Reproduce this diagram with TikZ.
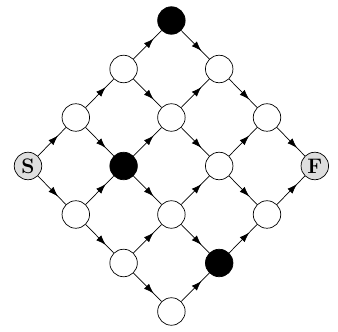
\documentclass[tikz,border=0pt]{standalone}
\usepackage{tikz}
\usetikzlibrary{arrows.meta,decorations.markings}
\begin{document}
\begin{tikzpicture}[x=1pt,y=1pt,
  vtx/.style={circle,draw,line width=0.7pt,minimum size=27.5pt,inner sep=0pt,fill=white},
  blk/.style={vtx,fill=black},
  term/.style={vtx,fill=black!13,font=\fontsize{21}{21}\selectfont\bfseries},
  flow/.style={line width=0.7pt,postaction={decorate},
    decoration={markings,mark=at position 0.72 with {\arrow{Latex[length=10pt,width=7pt]}}}}]
  \useasboundingbox (0,0) rectangle (338,332);
  \foreach \i in {0,...,3}{
    \foreach \j in {0,...,3}{
      \def\sty{vtx}\def\txt{}
      \ifnum\i\j=30 \def\sty{blk}\fi
      \ifnum\i\j=11 \def\sty{blk}\fi
      \ifnum\i\j=13 \def\sty{blk}\fi
      \ifnum\i\j=0 \def\sty{term}\def\txt{S}\fi
      \ifnum\i\j=33 \def\sty{term}\def\txt{F}\fi
      \node[\sty] (n\i\j) at (28+47.8*\i+47.8*\j, 166+48.5*\i-48.5*\j) {\txt};
    }
  }
  \foreach \i in {0,...,3}{
    \foreach \j/\k in {0/1,1/2,2/3}{
      \draw[flow] (n\i\j) -- (n\i\k);
      \draw[flow] (n\j\i) -- (n\k\i);
    }
  }
\end{tikzpicture}
\end{document}
